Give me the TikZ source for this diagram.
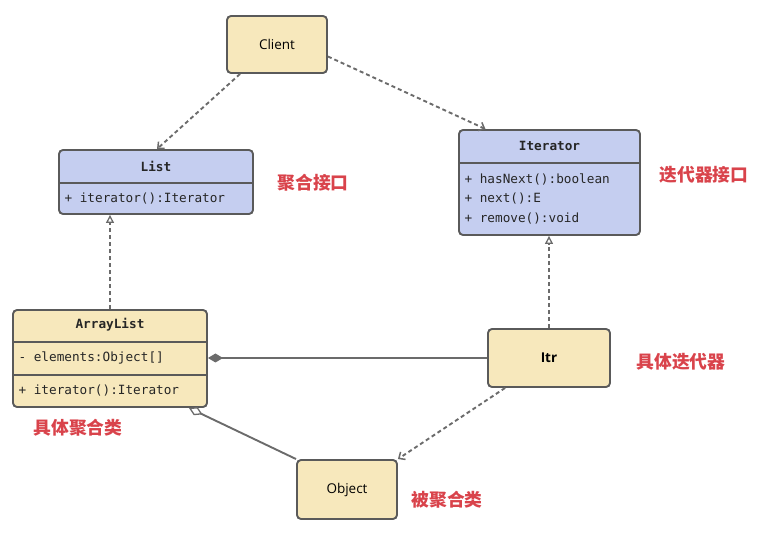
\documentclass[tikz,border=0pt]{standalone}
\usepackage{fontspec}
\usetikzlibrary{arrows.meta,calc}
\newfontfamily\cjk{Noto Sans CJK SC}
\newfontfamily\monof{DejaVu Sans Mono}
\newfontfamily\uisans{Open Sans}
\definecolor{yfill}{HTML}{F7E8BC}
\definecolor{bfill}{HTML}{C5CEF0}
\definecolor{bord}{HTML}{5A5A5A}
\definecolor{lbl}{HTML}{D9434B}
\begin{document}
\begin{tikzpicture}[x=1pt,y=-1pt,
  box/.style={draw=bord,line width=1.9pt,rounded corners=4pt,inner sep=0pt},
  ybox/.style={box,fill=yfill},
  bbox/.style={box,fill=bfill},
  divl/.style={draw=bord,line width=1.9pt},
  mono/.style={font=\monof\fontsize{12.7}{14}\selectfont,text=black!85},
  monob/.style={font=\monof\bfseries\fontsize{12.7}{14}\selectfont,text=black!85},
  lab/.style={font=\cjk\bfseries\fontsize{17.8}{19}\selectfont,text=lbl},
  dep/.style={draw=bord!90,line width=1.9pt,dash pattern=on 4pt off 3pt,-{Straight Barb[length=5pt,width=9pt,line width=1.5pt]}},
  real/.style={draw=bord!90,line width=1.9pt,dash pattern=on 4pt off 3pt,-{Triangle[open,length=8pt,width=8pt,fill=white,line width=1.3pt]}},
  comp/.style={draw=bord!90,line width=1.9pt,-{Diamond[length=15pt,width=9pt]}},
  aggr/.style={draw=bord!90,line width=1.9pt,-{Diamond[open,length=15pt,width=9pt,fill=white,line width=1.3pt]}}
]
\useasboundingbox (0,0) rectangle (764,534);

% Client
\node[ybox,minimum width=100pt,minimum height=57pt,font=\uisans\fontsize{13.5}{15}\selectfont] (Client) at (277,44.5) {Client};

% List
\node[bbox,minimum width=194pt,minimum height=64pt] (List) at (156,182) {};
\draw[divl] (List.west |- 0,183) -- (List.east |- 0,183);
\node[monob] (ListT) at (156,166) {List};
\node[mono,anchor=west] (ListM) at (61,199) {+ iterator():Iterator};

% Iterator
\node[bbox,minimum width=181pt,minimum height=105pt] (Iterator) at (549.5,182.5) {};
\draw[divl] (Iterator.west |- 0,163) -- (Iterator.east |- 0,163);
\node[monob] (IterT) at (549.5,146) {Iterator};
\node[mono,anchor=west] (IterM1) at (461,179) {+ hasNext():boolean};
\node[mono,anchor=west] (IterM2) at (461,199) {+ next():E};
\node[mono,anchor=west] (IterM3) at (461,219) {+ remove():void};

% ArrayList
\node[ybox,minimum width=194pt,minimum height=97pt] (ArrayList) at (110,358.5) {};
\draw[divl] (ArrayList.west |- 0,342) -- (ArrayList.east |- 0,342);
\draw[divl] (ArrayList.west |- 0,375) -- (ArrayList.east |- 0,375);
\node[monob] (ALT) at (110,325) {ArrayList};
\node[mono,anchor=west] (ALA) at (15,358) {- elements:Object[]};
\node[mono,anchor=west] (ALM) at (15,391) {+ iterator():Iterator};

% Itr
\node[ybox,minimum width=122pt,minimum height=58pt,font=\uisans\bfseries\fontsize{13.5}{15}\selectfont] (Itr) at (549,358) {Itr};

% Object
\node[ybox,minimum width=100pt,minimum height=59pt,font=\uisans\fontsize{13.5}{15}\selectfont] (Object) at (347,489.5) {Object};

% labels
\node[lab] (L1) at (313,183) {聚合接口};
\node[lab] (L2) at (704,175) {迭代器接口};
\node[lab] (L3) at (681,362) {具体迭代器};
\node[lab] (L4) at (78,428) {具体聚合类};
\node[lab] (L5) at (447,500) {被聚合类};

% connectors
\draw[dep] ([xshift=14pt]Client.south west) -- ([xshift=1pt]List.north);
\draw[dep] ([yshift=-12pt]Client.east) -- ([xshift=-64pt]Iterator.north);
\draw[real] (ArrayList.north) -- (ArrayList.north |- List.south);
\draw[real] (Itr.north) -- (Itr.north |- Iterator.south);
\draw[comp] (Itr.west) -- (Itr.west -| ArrayList.east);
\draw[aggr] (Object.north west) -- ([xshift=-19pt]ArrayList.south east);
\draw[dep] ([xshift=18pt]Itr.south west) -- (Object.north east);
\end{tikzpicture}
\end{document}
